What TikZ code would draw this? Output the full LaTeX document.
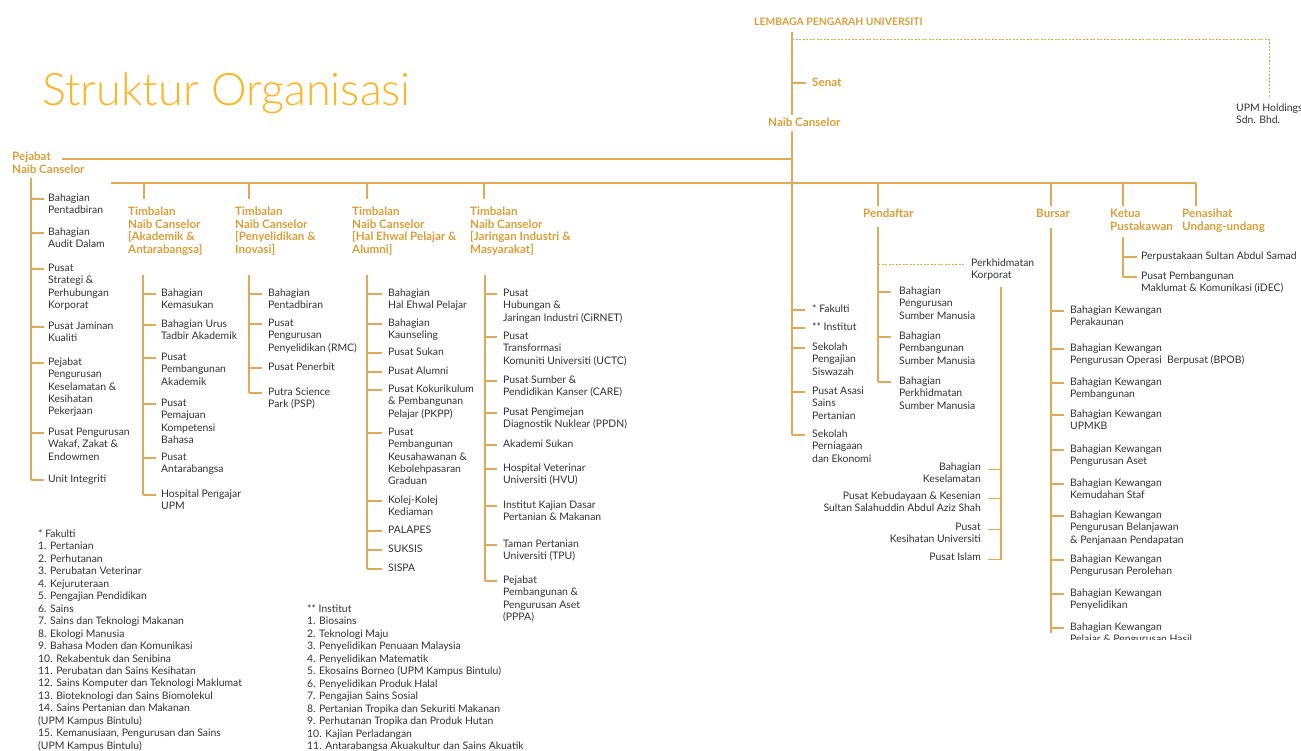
\documentclass[tikz,border=0pt]{standalone}
\usepackage{fontspec}
\setmainfont{Lato}
\newfontfamily\titlefont{Lato Light}
\definecolor{gold}{RGB}{216,158,58}
\definecolor{linec}{RGB}{222,170,88}
\definecolor{titlec}{RGB}{250,182,38}
\definecolor{txt}{RGB}{50,50,50}
\newcommand\ml[1]{\begin{tabular}[t]{@{}l@{}}#1\end{tabular}}
\newcommand\mr[1]{\begin{tabular}[t]{@{}r@{}}#1\end{tabular}}
\tikzset{
  ln/.style={draw=linec, line width=1.2pt},
  dln/.style={draw=linec, line width=1pt, dash pattern=on 2pt off 1.5pt},
  leaf/.style={font=\fontsize{10.4}{12.3}\selectfont, text=txt, inner sep=0pt, anchor=base west},
  leafr/.style={leaf, anchor=base east},
  head/.style={font=\bfseries\fontsize{11.6}{12.2}\selectfont, text=gold, inner sep=0pt, anchor=base west},
}
% #1 name, #2 trunk x, #3 gap, #4 text x, #5 baseline, #6 text
\newcommand\brn[6]{%
  \node[leaf] (#1) at (#4,#5) {\ml{#6}};
  \draw[ln] ([xshift=-#3pt,yshift=2.5pt]#1.base west) -- (#2,#5-2.5);}
\begin{document}
\begin{tikzpicture}[x=1pt,y=-1pt]
\useasboundingbox (0,0) rectangle (1301,751);

% title
\node[inner sep=0pt, anchor=base west, text=titlec, font=\titlefont\fontsize{45}{50}\selectfont] (title) at (42,106) {Struktur Organisasi};

% top chain
\node[head, font=\bfseries\fontsize{10.4}{12}\selectfont] (lemb) at (754,26) {LEMBAGA PENGARAH UNIVERSITI};
\node[head] (senat) at (812,87) {Senat};
\node[head] (nc) at (768,127) {Naib Canselor};
\node[leaf] (upmh) at (1236,111.5) {\ml{UPM Holdings\\Sdn. Bhd.}};
\coordinate (mA) at (792,32);
\coordinate (mB) at (792,115);
\coordinate (mC) at (792,131);
\coordinate (mD) at (792,435);
\draw[ln] (mA) -- (mB);
\draw[ln] (mC) -- (mD);
\draw[ln] (792,83) -- ([xshift=-6pt,yshift=4pt]senat.base west);
\coordinate (dh) at (1269,98);
\draw[dln] (792,40) -| (dh);

% Pejabat Naib Canselor
\node[head, font=\bfseries\fontsize{11.6}{13}\selectfont] (pnc) at (12,161) {\ml{Pejabat\\Naib Canselor}};
\coordinate (hA) at (62,159);
\draw[ln] (hA) -- (792,159);
\coordinate (pt) at (31,178);
\draw[ln] (pt) -- (31,480);
\brn{p1}{31}{4}{48}{201.5}{Bahagian\\Pentadbiran}
\brn{p2}{31}{4}{48}{235.5}{Bahagian\\Audit Dalam}
\brn{p3}{31}{4}{48}{271.5}{Pusat\\Strategi \&\\Perhubungan\\Korporat}
\brn{p4}{31}{4}{48}{329.5}{Pusat Jaminan\\Kualiti}
\brn{p5}{31}{4}{48}{365.5}{Pejabat\\Pengurusan\\Keselamatan \&\\Kesihatan\\Pekerjaan}
\brn{p6}{31}{4}{48}{435.5}{Pusat Pengurusan\\Wakaf, Zakat \&\\Endowmen}
\brn{p7}{31}{4}{48}{482.5}{Unit Integriti}

% second horizontal
\coordinate (hB) at (111,183);
\draw[ln] (hB) -- (1196,183);
\foreach \xx in {144,249,367,484} \draw[ln] (\xx,183) -- (\xx,199);
\foreach \xx in {878,1051,1123,1196} \draw[ln] (\xx,183) -- (\xx,206);

% Timbalan headings
\node[head] (t1) at (128,216) {\ml{Timbalan\\Naib Canselor\\{[}Akademik \&\\Antarabangsa{]}}};
\node[head] (t2) at (235,216) {\ml{Timbalan\\Naib Canselor\\{[}Penyelidikan \&\\Inovasi{]}}};
\node[head] (t3) at (352,216) {\ml{Timbalan\\Naib Canselor\\{[}Hal Ehwal Pelajar \&\\Alumni{]}}};
\node[head] (t4) at (470,216) {\ml{Timbalan\\Naib Canselor\\{[}Jaringan Industri \&\\Masyarakat{]}}};

% T1
\draw[ln] (143,275) -- (143,495);
\brn{a1}{143}{5}{161}{296.5}{Bahagian\\Kemasukan}
\brn{a2}{143}{5}{161}{327.5}{Bahagian Urus\\Tadbir Akademik}
\brn{a3}{143}{5}{161}{360.5}{Pusat\\Pembangunan\\Akademik}
\brn{a4}{143}{5}{161}{406.5}{Pusat\\Pemajuan\\Kompetensi\\Bahasa}
\brn{a5}{143}{5}{161}{460.5}{Pusat\\Antarabangsa}
\brn{a6}{143}{5}{161}{497.5}{Hospital Pengajar\\UPM}

% T2
\draw[ln] (249,275) -- (249,393);
\brn{b1}{249}{6}{268}{296.5}{Bahagian\\Pentadbiran}
\brn{b2}{249}{6}{268}{326.5}{Pusat\\Pengurusan\\Penyelidikan (RMC)}
\brn{b3}{249}{6}{268}{370.5}{Pusat Penerbit}
\brn{b4}{249}{6}{268}{395.5}{Putra Science\\Park (PSP)}

% T3
\draw[ln] (367,275) -- (367,569);
\brn{c1}{367}{6}{388}{296.5}{Bahagian\\Hal Ehwal Pelajar}
\brn{c2}{367}{6}{388}{326.5}{Bahagian\\Kaunseling}
\brn{c3}{367}{6}{388}{355.5}{Pusat Sukan}
\brn{c4}{367}{6}{388}{374.5}{Pusat Alumni}
\brn{c5}{367}{6}{388}{392.5}{Pusat Kokurikulum\\\& Pembangunan\\Pelajar (PKPP)}
\brn{c6}{367}{6}{388}{435.5}{Pusat\\Pembangunan\\Keusahawanan \&\\Kebolehpasaran\\Graduan}
\brn{c7}{367}{6}{388}{503.5}{Kolej-Kolej\\Kediaman}
\brn{c8}{367}{6}{388}{533.5}{PALAPES}
\brn{c9}{367}{6}{388}{552.5}{SUKSIS}
\brn{c10}{367}{6}{388}{571.5}{SISPA}

% T4
\draw[ln] (485,275) -- (485,581);
\brn{d1}{485}{6}{503}{296.5}{Pusat\\Hubungan \&\\Jaringan Industri (CiRNET)}
\brn{d2}{485}{6}{503}{339.5}{Pusat\\Transformasi\\Komuniti Universiti (UCTC)}
\brn{d3}{485}{6}{503}{383.5}{Pusat Sumber \&\\Pendidikan Kanser (CARE)}
\brn{d4}{485}{6}{503}{415.5}{Pusat Pengimejan\\Diagnostik Nuklear (PPDN)}
\brn{d5}{485}{6}{503}{447.5}{Akademi Sukan}
\brn{d6}{485}{6}{503}{471.5}{Hospital Veterinar\\Universiti (HVU)}
\brn{d7}{485}{6}{503}{508.5}{Institut Kajian Dasar\\Pertanian \& Makanan}
\brn{d8}{485}{6}{503}{547.5}{Taman Pertanian\\Universiti (TPU)}
\brn{d9}{485}{6}{503}{583.5}{Pejabat\\Pembangunan \&\\Pengurusan Aset\\(PPPA)}

% main trunk leaves
\brn{m1}{792}{7}{812}{312.5}{* Fakulti}
\brn{m2}{792}{7}{812}{330.5}{** Institut}
\brn{m3}{792}{7}{812}{350.5}{Sekolah\\Pengajian\\Siswazah}
\brn{m4}{792}{7}{812}{394.5}{Pusat Asasi\\Sains\\Pertanian}
\brn{m5}{792}{7}{812}{437.5}{Sekolah\\Perniagaan\\dan Ekonomi}

% Pendaftar
\node[head] (pend) at (863,218) {Pendaftar};
\draw[ln] (878,227) -- (878,382);
\node[leaf] (korp) at (971,266.5) {\ml{Perkhidmatan\\Korporat}};
\draw[dln] (878,265) -- ([xshift=-6pt,yshift=1.5pt]korp.base west);
\brn{e1}{878}{8}{899}{294.5}{Bahagian\\Pengurusan\\Sumber Manusia}
\brn{e2}{878}{8}{899}{339.5}{Bahagian\\Pembangunan\\Sumber Manusia}
\brn{e3}{878}{8}{899}{384.5}{Bahagian\\Perkhidmatan\\Sumber Manusia}

% Korporat
\draw[ln] (1001,287) -- (1001,559.5);
\node[leafr] (k1) at (981,470.5) {\mr{Bahagian\\Keselamatan}};
\node[leafr] (k2) at (981,499.5) {\mr{Pusat Kebudayaan \& Kesenian\\Sultan Salahuddin Abdul Aziz Shah}};
\node[leafr] (k3) at (981,530.5) {\mr{Pusat\\Kesihatan Universiti}};
\node[leafr] (k4) at (981,560.5) {\mr{Pusat Islam}};
\foreach \k in {k1,k2,k3,k4} \draw[ln] ([xshift=7pt,yshift=1pt]\k.base east) -- ++(13,0);

% Bursar
\node[head] (bur) at (1036,218) {Bursar};
\draw[ln] (1051,228) -- (1051,633);
\brn{f1}{1051}{6}{1070}{313.5}{Bahagian Kewangan\\Perakaunan}
\brn{f2}{1051}{6}{1070}{351.5}{Bahagian Kewangan\\Pengurusan Operasi~~Berpusat (BPOB)}
\brn{f3}{1051}{6}{1070}{385.5}{Bahagian Kewangan\\Pembangunan}
\brn{f4}{1051}{6}{1070}{417.5}{Bahagian Kewangan\\UPMKB}
\brn{f5}{1051}{6}{1070}{452.5}{Bahagian Kewangan\\Pengurusan Aset}
\brn{f6}{1051}{6}{1070}{486.5}{Bahagian Kewangan\\Kemudahan Staf}
\brn{f7}{1051}{6}{1070}{518.5}{Bahagian Kewangan\\Pengurusan Belanjawan\\\& Penjanaan Pendapatan}
\brn{f8}{1051}{6}{1070}{562.5}{Bahagian Kewangan\\Pengurusan Perolehan}
\brn{f9}{1051}{6}{1070}{596.5}{Bahagian Kewangan\\Penyelidikan}
\begin{scope}
\clip (1040,600) rectangle (1301,639.5);
\brn{f10}{1051}{6}{1070}{630.5}{Bahagian Kewangan\\Pelajar \& Pengurusan Hasil}
\end{scope}

% Ketua Pustakawan
\node[head, font=\bfseries\fontsize{11.6}{13}\selectfont] (kp) at (1110,218) {\ml{Ketua\\Pustakawan}};
\draw[ln] (1123,237) -- (1123,277);
\brn{g1}{1123}{4}{1141}{259.5}{Perpustakaan Sultan Abdul Samad}
\brn{g2}{1123}{4}{1141}{279.5}{Pusat Pembangunan\\Maklumat \& Komunikasi (iDEC)}

% Penasihat
\node[head, font=\bfseries\fontsize{11.6}{13}\selectfont] (pu) at (1182,218) {\ml{Penasihat\\Undang-undang}};

% footnotes
\node[leaf, font=\fontsize{10.4}{12.45}\selectfont] (fak) at (38,537.5) {\ml{* Fakulti\\1. Pertanian\\2. Perhutanan\\3. Perubatan Veterinar\\4. Kejuruteraan\\5. Pengajian Pendidikan\\6. Sains\\7. Sains dan Teknologi Makanan\\8. Ekologi Manusia\\9. Bahasa Moden dan Komunikasi\\10. Rekabentuk dan Senibina\\11. Perubatan dan Sains Kesihatan\\12. Sains Komputer dan Teknologi Maklumat\\13. Bioteknologi dan Sains Biomolekul\\14. Sains Pertanian dan Makanan\\(UPM Kampus Bintulu)\\15. Kemanusiaan, Pengurusan dan Sains\\(UPM Kampus Bintulu)}};
\node[leaf, font=\fontsize{10.4}{12.45}\selectfont] (ins) at (307,612.5) {\ml{** Institut\\1. Biosains\\2. Teknologi Maju\\3. Penyelidikan Penuaan Malaysia\\4. Penyelidikan Matematik\\5. Ekosains Borneo (UPM Kampus Bintulu)\\6. Penyelidikan Produk Halal\\7. Pengajian Sains Sosial\\8. Pertanian Tropika dan Sekuriti Makanan\\9. Perhutanan Tropika dan Produk Hutan\\10. Kajian Perladangan\\11. Antarabangsa Akuakultur dan Sains Akuatik}};
\end{tikzpicture}
\end{document}
